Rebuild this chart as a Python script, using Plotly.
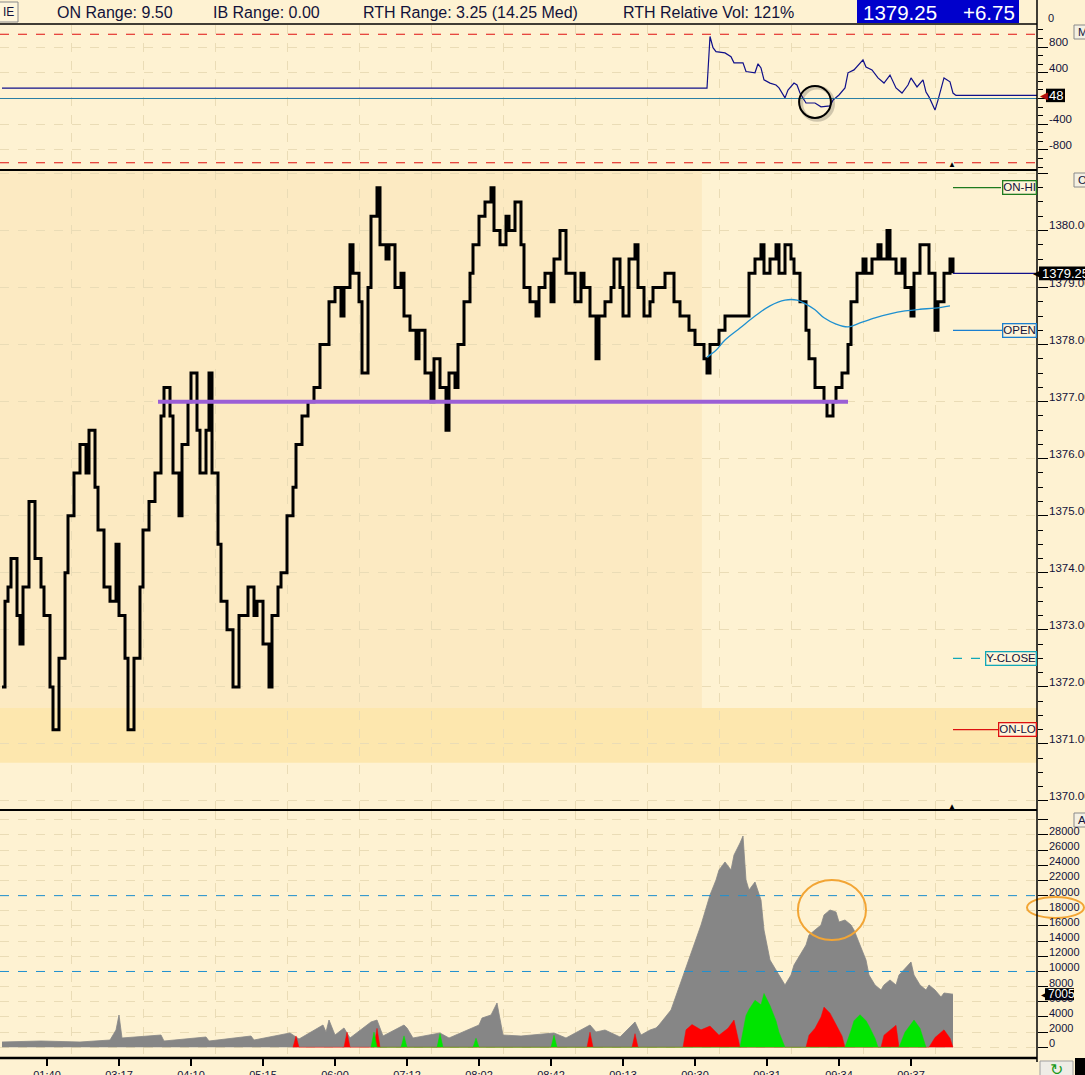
import plotly.graph_objects as go

W, H = 1085, 1075
def px(x): return x / W
def py(y): return 1 - y / H

# ---------------- data ----------------
tick_bars = [15, 39, 63, 87, 111, 135, 159, 183, 207, 231, 255, 279, 303]
tick_labels = ["01:40", "03:17", "04:10", "05:15", "06:00", "07:12", "08:02",
               "08:42", "09:13", "09:30", "09:31", "09:34", "09:37"]

price_bars = [0, 1, 2, 3, 5, 6, 7, 9, 11, 13, 14, 16, 17, 19, 21, 22, 24, 26, 28, 29,
              31, 32, 34, 36, 38, 39, 41, 42, 44, 46, 47, 49, 51, 53, 54, 56, 57, 59, 60, 62,
              63, 65, 66, 68, 69, 70, 72, 73, 75, 77, 79, 81, 82, 84, 85, 87, 89, 90, 92, 93,
              95, 97, 98, 100, 102, 104, 106, 107, 109, 111, 113, 114, 116, 117, 119, 120, 122, 123, 125, 126,
              128, 129, 131, 133, 134, 136, 138, 139, 141, 143, 144, 146, 148, 149, 151, 152, 154, 156, 157, 159,
              161, 163, 164, 166, 168, 169, 171, 173, 174, 176, 178, 179, 181, 183, 184, 186, 188, 189, 191, 193,
              194, 196, 198, 199, 201, 203, 204, 206, 207, 209, 211, 212, 214, 216, 217, 219, 221, 223, 224, 226,
              228, 229, 231, 233, 234, 235, 236, 238, 239, 241, 243, 244, 246, 248, 249, 251, 253, 254, 256, 258,
              259, 261, 263, 264, 266, 268, 269, 271, 273, 274, 275, 277, 278, 280, 282, 283, 285, 287, 288, 290,
              292, 293, 295, 296, 298, 300, 301, 303, 304, 306, 307, 309, 311, 312, 314, 316, 317]
price_vals = [1372.00, 1373.50, 1373.75, 1374.25, 1373.25, 1372.75, 1373.75, 1375.25, 1374.25, 1373.75,
              1373.25, 1372.00, 1371.25, 1372.50, 1374.00, 1375.00, 1375.75, 1376.25, 1375.75, 1376.50,
              1375.50, 1374.75, 1373.75, 1373.50, 1374.50, 1373.25, 1372.50, 1371.25, 1372.50, 1373.75,
              1374.75, 1375.25, 1375.75, 1376.75, 1377.25, 1376.75, 1375.75, 1375.00, 1376.25, 1377.00,
              1377.50, 1376.50, 1375.75, 1376.50, 1377.50, 1375.75, 1374.50, 1373.50, 1373.00, 1372.00,
              1373.25, 1373.25, 1373.75, 1373.25, 1373.50, 1372.75, 1372.00, 1373.25, 1373.75, 1374.00,
              1375.00, 1375.50, 1376.25, 1376.75, 1377.00, 1377.25, 1378.00, 1378.00, 1378.75, 1379.00,
              1378.50, 1379.00, 1379.75, 1379.25, 1378.75, 1377.50, 1379.00, 1380.25, 1380.75, 1379.75,
              1379.50, 1379.75, 1379.00, 1379.25, 1378.50, 1378.25, 1377.75, 1378.25, 1377.50, 1377.00,
              1377.75, 1377.25, 1376.50, 1377.50, 1377.25, 1378.00, 1378.75, 1379.25, 1379.75, 1380.25,
              1380.50, 1380.75, 1380.00, 1379.75, 1380.25, 1380.00, 1380.50, 1379.75, 1379.00, 1378.75,
              1378.50, 1379.00, 1379.25, 1378.75, 1379.50, 1380.00, 1379.25, 1379.25, 1378.75, 1379.25,
              1379.00, 1378.50, 1377.75, 1378.50, 1378.75, 1379.00, 1379.50, 1379.00, 1378.50, 1379.50,
              1379.75, 1379.00, 1378.50, 1378.75, 1379.00, 1379.00, 1379.25, 1379.25, 1378.75, 1378.50,
              1378.50, 1378.25, 1378.00, 1378.00, 1377.75, 1377.50, 1378.00, 1378.00, 1378.25, 1378.50,
              1378.50, 1378.50, 1378.50, 1378.50, 1379.25, 1379.50, 1379.75, 1379.25, 1379.50, 1379.75,
              1379.25, 1379.75, 1379.50, 1379.25, 1378.75, 1378.25, 1377.75, 1377.25, 1377.25, 1377.00,
              1376.75, 1377.00, 1377.25, 1377.50, 1378.00, 1378.75, 1379.25, 1379.50, 1379.25, 1379.50,
              1379.75, 1379.50, 1380.00, 1379.50, 1379.25, 1379.50, 1379.00, 1378.50, 1379.25, 1379.75,
              1379.75, 1379.25, 1378.25, 1378.75, 1379.25, 1379.50, 1379.25]

ma_bars = [235, 238, 241, 246, 251, 256, 261, 265, 268, 271, 274, 278, 282, 286, 291, 296, 301, 306, 311, 316]
ma_vals = [1377.78, 1377.90, 1378.08, 1378.29, 1378.50, 1378.68, 1378.78, 1378.78, 1378.71, 1378.61,
           1378.47, 1378.36, 1378.31, 1378.38, 1378.47, 1378.54, 1378.59, 1378.62, 1378.64, 1378.68]

ind_bars = [0, 235, 236, 237, 238, 241, 243, 244, 247, 248, 251, 252, 253, 254, 256, 258, 259, 261, 262, 264,
            265, 266, 268, 271, 273, 276, 277, 279, 281, 282, 284, 287, 288, 290, 292, 294, 296, 298, 300, 302,
            303, 305, 307, 308, 309, 311, 312, 313, 314, 316, 317, 318]
ind_vals = [160, 160, 965, 790, 730, 710, 650, 555, 555, 420, 400, 540, 475, 290, 240, 210, 165, 10, 130, 240,
            210, 85, -70, -70, -130, -115, -25, 55, 165, 400, 445, 600, 490, 445, 320, 240, 365, 165, 85, 210,
            320, 180, 290, 100, 25, -180, -25, 130, 320, 260, 85, 48]

vol_bars = [0, 13, 26, 36, 38, 39, 40, 53, 54, 68, 69, 83, 84, 96, 99, 107, 108, 109, 111, 114,
            116, 123, 125, 127, 134, 135, 137, 146, 149, 159, 160, 163, 165, 167, 173, 184, 188, 196, 198, 201,
            206, 211, 213, 216, 218, 219, 223, 226, 229, 233, 236, 238, 239, 241, 243, 244, 246, 247, 248, 249,
            251, 253, 254, 256, 258, 259, 261, 263, 264, 266, 268, 269, 271, 273, 274, 276, 278, 279, 281, 283,
            284, 286, 288, 289, 291, 293, 294, 296, 298, 299, 301, 303, 304, 306, 308, 309, 311, 313, 314, 317]
vol_total = [700, 830, 700, 960, 2280, 4260, 1230, 1620, 830, 1360, 830, 1490, 960, 1890, 1090, 2940, 2020, 3600, 1620, 2550,
             1230, 3340, 3600, 1490, 2940, 2550, 1230, 1890, 1230, 2940, 3860, 4260, 5840, 1620, 1490, 1890, 1230, 2940, 2020, 2280,
             1360, 3340, 1620, 2280, 2550, 2940, 4920, 8220, 11510, 16130, 20090, 22060, 23380, 24440, 23380, 25360, 26940, 27860, 22060, 20740,
             21800, 19420, 15470, 11510, 10190, 9530, 8220, 9530, 10850, 12170, 13490, 14810, 15470, 16130, 17450, 18110, 17840, 16520, 16790, 16130,
             15470, 13490, 11510, 9530, 8220, 7560, 8220, 8880, 8220, 9530, 10460, 11250, 9530, 8220, 7560, 8220, 7560, 6630, 7160, 7005]

red_bars = [97, 98, 99, 114, 115, 116, 124, 125, 126, 195, 196, 197, 210, 211, 212,
            227, 228, 230, 233, 236, 239, 242, 244, 245, 246,
            268, 269, 271, 273, 274, 276, 278, 280, 281,
            293, 294, 298, 299, 309, 311, 314, 316, 317]
red_vol = [0, 1500, 0, 0, 2000, 0, 0, 2500, 0, 0, 2000, 0, 0, 1800, 0,
           0, 2300, 3000, 2300, 2800, 1600, 2500, 3600, 2000, 0,
           0, 1600, 2500, 4000, 5300, 4500, 3000, 1500, 0,
           0, 1600, 2900, 0, 0, 1300, 2300, 1200, 0]

green_bars = [123, 124, 125, 133, 134, 135, 145, 146, 147, 157, 158, 159, 183, 184, 185,
              246, 248, 249, 251, 253, 254, 256, 258, 259, 261,
              281, 283, 284, 286, 288, 289, 291, 292,
              299, 301, 303, 304, 306, 308]
green_vol = [0, 2000, 0, 0, 1500, 0, 0, 1800, 0, 0, 1200, 0, 0, 1600, 0,
             0, 4200, 5000, 6200, 5600, 7100, 5500, 3500, 2000, 0,
             0, 2200, 3500, 4300, 3500, 2800, 1200, 0,
             0, 2000, 3000, 3600, 2500, 0]

price_ticks = [1370, 1371, 1372, 1373, 1374, 1375, 1376, 1377, 1378, 1379, 1380]
ind_ticks = [800, 400, -400, -800]
vol_ticks = list(range(0, 30000, 2000))

levels = [("ON-HI", 1380.75, "#1E7A1E", "solid", 333.0),
          ("OPEN", 1378.25, "#1A7FD0", "solid", 334.3),
          ("Y-CLOSE", 1372.50, "#12A8B8", "dash", 329.0),
          ("ON-LO", 1371.25, "#DD1010", "solid", 332.3)]
last_price = 1379.25
last_ind = 48
last_vol = 7005
purple_level = 1377.00

# ---------------- figure ----------------
BG = "#FEF2D2"
FONT = "Liberation Sans"
TXT = "#12123A"
XR = [-0.667, 345]
X_END = px(1037)

fig = go.Figure()

fig.add_trace(go.Scatter(x=ind_bars, y=ind_vals, yaxis="y2", mode="lines",
                         line=dict(color="#10108A", width=1.2)))
fig.add_trace(go.Scatter(x=price_bars, y=price_vals, yaxis="y", mode="lines",
                         line=dict(color="black", width=3, shape="hv")))
fig.add_trace(go.Scatter(x=ma_bars, y=ma_vals, yaxis="y", mode="lines",
                         line=dict(color="#1E90D0", width=1.3, shape="spline")))
fig.add_trace(go.Scatter(x=vol_bars, y=vol_total, yaxis="y3", mode="lines", fill="tozeroy",
                         fillcolor="#868686", line=dict(color="#868686", width=0.8)))
fig.add_trace(go.Scatter(x=red_bars, y=red_vol, yaxis="y3", mode="lines", fill="tozeroy",
                         fillcolor="#FF0000", line=dict(color="#FF0000", width=0.5)))
fig.add_trace(go.Scatter(x=green_bars, y=green_vol, yaxis="y3", mode="lines", fill="tozeroy",
                         fillcolor="#00E400", line=dict(color="#00E400", width=0.5)))

shapes = []
shapes.append(dict(type="rect", xref="x", yref="y", x0=XR[0], x1=233.3, y0=1371.63, y1=1381.05,
                   fillcolor="#FCEAC2", line=dict(width=0), layer="below"))
shapes.append(dict(type="rect", xref="x", yref="y", x0=XR[0], x1=XR[1], y0=1370.67, y1=1371.63,
                   fillcolor="#FDE7AE", line=dict(width=0), layer="below"))
shapes.append(dict(type="line", xref="x", yref="y", x0=52, x1=282, y0=purple_level, y1=purple_level,
                   line=dict(color="#9B5FD6", width=4)))
for name, lvl, col, dash, xend in levels:
    shapes.append(dict(type="line", xref="x", yref="y", x0=317, x1=xend, y0=lvl, y1=lvl,
                       line=dict(color=col, width=1.2, dash=dash)))
shapes.append(dict(type="line", xref="x", yref="y", x0=317, x1=XR[1], y0=last_price, y1=last_price,
                   line=dict(color="#10108A", width=1.3)))
for v in (1000, -1000):
    shapes.append(dict(type="line", xref="paper", yref="y2", x0=0, x1=X_END, y0=v, y1=v,
                       line=dict(color="#E01010", width=1.2, dash="dash")))
shapes.append(dict(type="line", xref="paper", yref="y2", x0=0, x1=X_END, y0=0, y1=0,
                   line=dict(color="#2A7FA5", width=1.2)))
shapes.append(dict(type="line", xref="x", yref="y2", x0=318, x1=XR[1], y0=last_ind, y1=last_ind,
                   line=dict(color="#10108A", width=1.2)))
shapes.append(dict(type="circle", xref="x", yref="y2", x0=266.4, x1=277.0, y0=-330, y1=170,
                   line=dict(color="rgba(0,0,0,0.18)", width=4)))
shapes.append(dict(type="circle", xref="x", yref="y2", x0=265.7, x1=276.3, y0=-303, y1=195,
                   line=dict(color="black", width=2)))
for v in (20000, 10000):
    shapes.append(dict(type="line", xref="paper", yref="y3", x0=0, x1=X_END, y0=v, y1=v,
                       line=dict(color="#1E90D0", width=1, dash="dash")))
shapes.append(dict(type="circle", xref="x", yref="y3", x0=265.3, x1=288, y0=14150, y1=22060,
                   line=dict(color="#F2A535", width=2)))
shapes.append(dict(type="circle", xref="paper", yref="paper", x0=px(1027), x1=px(1084), y0=py(918), y1=py(897),
                   line=dict(color="#F2A535", width=2)))
for yb, w in ((24, 1.5), (170, 2), (810, 2), (1058, 2.5)):
    shapes.append(dict(type="line", xref="paper", yref="paper", x0=0, x1=X_END, y0=py(yb), y1=py(yb),
                       line=dict(color="black", width=w)))
shapes.append(dict(type="line", xref="paper", yref="paper", x0=X_END, x1=X_END, y0=py(1062), y1=1,
                   line=dict(color="black", width=1.5)))
shapes.append(dict(type="rect", xref="paper", yref="paper", x0=px(857), x1=px(1019), y0=py(23), y1=1,
                   fillcolor="#0000CC", line=dict(width=0)))
shapes.append(dict(type="rect", xref="paper", yref="paper", x0=px(-4), x1=px(18), y0=py(22), y1=py(2),
                   fillcolor="#FFF6DC", line=dict(color="#8A8A8A", width=1)))
for y0 in (25, 173, 813):
    shapes.append(dict(type="rect", xref="paper", yref="paper", x0=px(1074), x1=px(1088), y0=py(y0 + 14), y1=py(y0),
                       fillcolor="#F4F0E2", line=dict(color="#8A8A8A", width=1)))
shapes.append(dict(type="rect", xref="paper", yref="paper", x0=px(1040), x1=px(1073), y0=py(1077), y1=py(1061),
                   fillcolor="#EFEDE6", line=dict(color="#A0A0A0", width=1)))
shapes.append(dict(type="rect", xref="paper", yref="paper", x0=px(1075), x1=1, y0=0, y1=py(1058),
                   fillcolor="black", line=dict(width=0)))
shapes.append(dict(type="rect", xref="paper", yref="y", x0=px(1039), x1=1.0, y0=last_price - 0.12, y1=last_price + 0.12,
                   fillcolor="black", line=dict(width=0)))
shapes.append(dict(type="rect", xref="paper", yref="y2", x0=px(1046), x1=px(1065), y0=last_ind - 105, y1=last_ind + 105,
                   fillcolor="black", line=dict(width=0)))
shapes.append(dict(type="rect", xref="paper", yref="y3", x0=px(1045), x1=px(1074), y0=last_vol - 800, y1=last_vol + 800,
                   fillcolor="black", line=dict(width=0)))

ann = []
def txt(x, y, s, size=11.5, color=TXT, xanchor="left", yref="paper", yshift=0, family=FONT, **kw):
    ann.append(dict(x=x, y=y, xref="paper", yref=yref, text=s, showarrow=False, xanchor=xanchor,
                    yanchor="middle", yshift=yshift, font=dict(family=family, size=size, color=color), **kw))

txt(px(55), py(12), "ON Range: 9.50", size=16)
txt(px(211), py(12), "IB Range: 0.00", size=16)
txt(px(361), py(12), "RTH Range: 3.25 (14.25 Med)", size=16)
txt(px(621), py(12), "RTH Relative Vol: 121%", size=16)
txt(px(861), py(12), "1379.25", size=20.5, color="white")
txt(px(961), py(12), "+6.75", size=20.5, color="white")
txt(px(1), py(12), "IE", size=12)
txt(px(1046), py(18), "0", size=11)
for ch, y0 in (("M", 25), ("O", 173), ("A", 813)):
    txt(px(1076), py(y0 + 7), ch, size=11.5)
txt(px(1056.5), py(1069), "↻", size=16, color="#1A9A1A", xanchor="center")

for v in price_ticks:
    txt(px(1047), v, f"{v:.2f}", yref="y", yshift=5)
for v in ind_ticks:
    txt(px(1047), v, f"{v}", yref="y2", yshift=5)
for v in vol_ticks:
    txt(px(1047), v, f"{v}", yref="y3", yshift=4, size=11)

for name, lvl, col, dash, xend in levels:
    ann.append(dict(x=X_END, y=lvl, xref="paper", yref="y", text=name, showarrow=False, xanchor="right",
                    yanchor="middle", bgcolor="#FFF4D8", bordercolor=col, borderwidth=1.3, borderpad=0,
                    font=dict(family=FONT, size=11.5, color=TXT)))

txt(px(1031), last_price, "◀", yref="y", size=11, color="black")
txt(px(1040), last_price, f"{last_price:.2f}", yref="y", size=13, color="white")
txt(px(1038), last_ind, "◀", yref="y2", size=10, color="#B01010")
txt(px(1047), last_ind, f"{last_ind}", yref="y2", size=13, color="white")
txt(px(1039), last_vol, "◀", yref="y3", size=10, color="black")
txt(px(1046), last_vol, f"{last_vol}", yref="y3", size=12, color="white")
txt(px(952), py(165), "▲", size=8, color="black", xanchor="center")
txt(px(952), py(806), "▲", size=8, color="black", xanchor="center")

grid = "#EADCB6"
yax_common = dict(side="right", anchor="x", showticklabels=False, ticks="outside", tickcolor="black",
                  ticklen=10, tickwidth=1, showline=False, zeroline=False, showgrid=True, automargin=False,
                  gridcolor=grid, griddash="dash", gridwidth=1, fixedrange=True)

fig.update_layout(
    width=W, height=H, margin=dict(l=0, r=0, t=0, b=0, autoexpand=False),
    paper_bgcolor=BG, plot_bgcolor=BG, showlegend=False, hovermode=False,
    xaxis=dict(domain=[0, X_END], range=XR, anchor="y3", tickmode="array", tickvals=tick_bars,
               ticktext=tick_labels, ticks="outside", ticklen=7, tickwidth=1.5, tickcolor="black",
               showgrid=False, zeroline=False, showline=False, ticklabelstandoff=0, automargin=False,
               tickfont=dict(family=FONT, size=11, color=TXT),
               minor=dict(tickmode="array", tickvals=[b + 8 for b in tick_bars], showgrid=True,
                          gridcolor=grid, griddash="dash", ticks="")),
    yaxis=dict(domain=[py(810), py(171)], range=[1369.842, 1381.043], dtick=1, tick0=1370,
               minor=dict(dtick=0.25, ticks="outside", ticklen=5, tickcolor="black", showgrid=False),
               **yax_common),
    yaxis2=dict(domain=[py(170), py(25)], range=[-1113, 1144], dtick=400, tick0=0,
                minor=dict(dtick=400 / 3, ticks="outside", ticklen=5, tickcolor="black", showgrid=False),
                **yax_common),
    yaxis3=dict(domain=[py(1058), py(811)], range=[-1411, 31161], dtick=2000, tick0=0,
                **yax_common),
    shapes=shapes, annotations=ann,
)

fig.write_html("out.html", config={"displayModeBar": False, "staticPlot": True})

# remove the browser's default page margin so the figure sits at the window origin
with open("out.html", encoding="utf-8") as f:
    html = f.read()
html = html.replace("<head>", "<head><style>html,body{margin:0;padding:0;overflow:hidden;}</style>", 1)
with open("out.html", "w", encoding="utf-8") as f:
    f.write(html)
